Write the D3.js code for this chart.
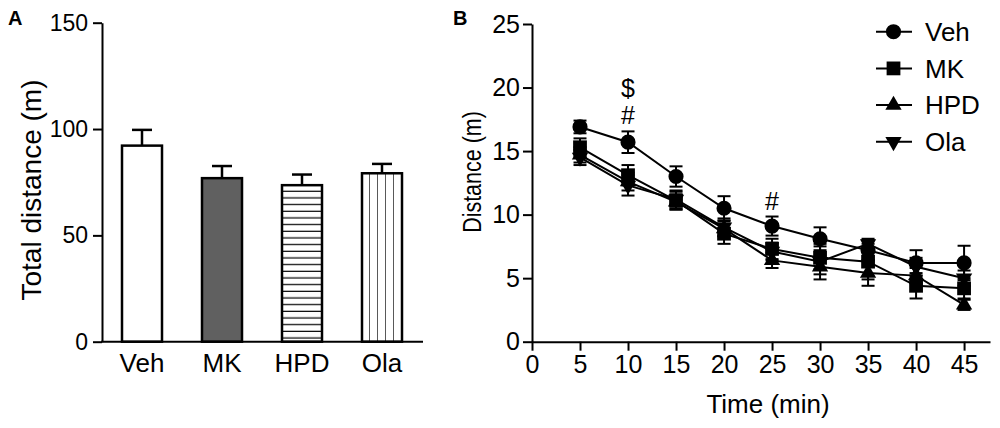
<!DOCTYPE html>
<html>
<head>
<meta charset="utf-8">
<script src="https://cdn.jsdelivr.net/npm/d3@7"></script>
<style>
  body { margin: 0; background: #fff; }
  svg { display: block; font-family: Arial, "Liberation Sans", sans-serif; }
</style>
</head>
<body>
<svg id="chart"></svg>
<script>
// panel A: total distance
var groups = ["Veh", "MK", "HPD", "Ola"];
var totalMean = [92.2, 76.9, 73.6, 79.2];
var totalSem = [7.4, 5.7, 5.0, 4.4];
var totalTicks = [0, 50, 100, 150];

// panel B: distance per 5-min bin
var times = [5, 10, 15, 20, 25, 30, 35, 40, 45];
var timeTicks = [0, 5, 10, 15, 20, 25, 30, 35, 40, 45];
var distTicks = [0, 5, 10, 15, 20, 25];
var vehMean = [16.9, 15.7, 13.0, 10.5, 9.1, 8.1, 7.2, 6.2, 6.2];
var vehSem = [0.5, 0.85, 0.8, 0.95, 0.75, 0.9, 0.8, 1.0, 1.35];
var mkMean = [15.3, 13.1, 11.1, 8.5, 7.3, 6.6, 6.3, 4.4, 4.2];
var mkSem = [0.7, 0.8, 0.7, 0.8, 0.8, 0.9, 1.4, 1.0, 0.8];
var hpdMean = [14.7, 12.6, 11.0, 8.9, 6.4, 5.9, 5.4, 5.2, 2.9];
var hpdSem = [0.6, 0.7, 0.6, 0.6, 0.6, 0.6, 1.0, 0.6, 0.4];
var olaMean = [14.5, 12.3, 11.2, 9.0, 7.1, 6.3, 7.7, 5.9, 5.0];
var olaSem = [0.6, 0.8, 0.7, 0.7, 0.7, 1.4, 0.4, 0.7, 0.6];
var marks = [
	{ x: 10, above: vehMean[1] + vehSem[1], text: ["$", "#"] },
	{ x: 25, above: vehMean[4] + vehSem[4], text: ["#"] }
];

var W = 1000, H = 428;
var svg = d3.select("#chart").attr("width", W).attr("height", H);

function panelLabel(x, y, t) {
	svg.append("text")
		.attr("x", x).attr("y", y)
		.attr("font-size", "20px")
		.attr("font-weight", "bold")
		.text(t);
}

function styleAxis(g, size) {
	g.selectAll("path, line").attr("stroke", "#000").attr("stroke-width", 2);
	g.selectAll("text").attr("font-size", size).attr("fill", "#000")
		.attr("font-family", "Arial, 'Liberation Sans', sans-serif");
}

//////////////////////////////////////
// Panel A
panelLabel(8, 25, "A");

var xa = d3.scaleBand().domain(groups).range([102, 422]).paddingInner(0.5).paddingOuter(0.25);
var ya = d3.scaleLinear().domain([0, 150]).range([341.7, 22.7]);

var defs = svg.append("defs");
// horizontal stripes for HPD
var hp = defs.append("pattern").attr("id", "hstripe")
	.attr("patternUnits", "userSpaceOnUse")
	.attr("x", 0).attr("y", ya(totalMean[2]))
	.attr("width", 10).attr("height", 6.67);
hp.append("rect").attr("width", 10).attr("height", 6.67).attr("fill", "#fff");
hp.append("line").attr("x1", 0).attr("x2", 10).attr("y1", 6.67).attr("y2", 6.67)
	.attr("stroke", "#000").attr("stroke-width", 2.4);
// vertical stripes for Ola
var vw = xa.bandwidth() / 5;
var vp = defs.append("pattern").attr("id", "vstripe")
	.attr("patternUnits", "userSpaceOnUse")
	.attr("x", xa("Ola")).attr("y", 0)
	.attr("width", vw).attr("height", 10);
vp.append("rect").attr("width", vw).attr("height", 10).attr("fill", "#fff");
vp.append("line").attr("x1", vw).attr("x2", vw).attr("y1", 0).attr("y2", 10)
	.attr("stroke", "#000").attr("stroke-width", 1.3);

var fills = ["#fff", "#606060", "url(#hstripe)", "url(#vstripe)"];

var ga = svg.append("g");
// error bars (upper only)
groups.forEach(function(g, i) {
	var cx = xa(g) + xa.bandwidth() / 2;
	ga.append("line")
		.attr("x1", cx).attr("x2", cx)
		.attr("y1", ya(totalMean[i])).attr("y2", ya(totalMean[i] + totalSem[i]))
		.attr("stroke", "#000").attr("stroke-width", 2.5);
	ga.append("line")
		.attr("x1", cx - xa.bandwidth() / 4).attr("x2", cx + xa.bandwidth() / 4)
		.attr("y1", ya(totalMean[i] + totalSem[i])).attr("y2", ya(totalMean[i] + totalSem[i]))
		.attr("stroke", "#000").attr("stroke-width", 2.5);
});

ga.selectAll("rect.bar")
	.data(groups)
	.enter().append("rect")
	.attr("class", "bar")
	.attr("x", function(d) { return xa(d); })
	.attr("width", xa.bandwidth())
	.attr("y", function(d, i) { return ya(totalMean[i]); })
	.attr("height", function(d, i) { return ya(0) - ya(totalMean[i]); })
	.attr("fill", function(d, i) { return fills[i]; })
	.attr("stroke", "#000")
	.attr("stroke-width", 2.5);

var ayA = svg.append("g").attr("transform", "translate(102,0)")
	.call(d3.axisLeft(ya).tickValues(totalTicks).tickSize(9).tickPadding(5).tickSizeOuter(0));
styleAxis(ayA, "23px");

var axA = svg.append("g").attr("transform", "translate(0," + ya(0) + ")")
	.call(d3.axisBottom(xa).tickSize(0).tickPadding(8).tickSizeOuter(0));
axA.select(".domain").attr("d", "M101,0H423");
styleAxis(axA, "26px");
axA.selectAll("text").attr("dy", "0.85em");

svg.append("text")
	.attr("transform", "translate(41,190) rotate(-90)")
	.attr("text-anchor", "middle")
	.attr("font-size", "28px")
	.text("Total distance (m)");

//////////////////////////////////////
// Panel B
panelLabel(453, 25, "B");

var xb = d3.scaleLinear().domain([0, 47.7]).range([532, 990]);
var yb = d3.scaleLinear().domain([0, 25]).range([341.7, 24]);

var ayB = svg.append("g").attr("transform", "translate(532,0)")
	.call(d3.axisLeft(yb).tickValues(distTicks).tickSize(9).tickPadding(3).tickSizeOuter(0));
styleAxis(ayB, "25px");

var axB = svg.append("g").attr("transform", "translate(0," + yb(0) + ")")
	.call(d3.axisBottom(xb).tickValues(timeTicks).tickSize(9).tickPadding(5).tickSizeOuter(0));
styleAxis(axB, "25px");

// the original title is squeezed along its length
svg.append("text")
	.attr("transform", "translate(481,172) rotate(-90) scale(0.86,1)")
	.attr("text-anchor", "middle")
	.attr("font-size", "25px")
	.text("Distance (m)");

svg.append("text")
	.attr("x", 768).attr("y", 413)
	.attr("text-anchor", "middle")
	.attr("font-size", "26px")
	.text("Time (min)");

var series = [
	{ name: "Veh", mean: vehMean, sem: vehSem, sym: d3.symbolCircle, size: 180, rot: 0 },
	{ name: "MK", mean: mkMean, sem: mkSem, sym: d3.symbolSquare, size: 190, rot: 0 },
	{ name: "HPD", mean: hpdMean, sem: hpdSem, sym: d3.symbolTriangle, size: 115, rot: 0 },
	{ name: "Ola", mean: olaMean, sem: olaSem, sym: d3.symbolTriangle, size: 115, rot: 180 }
];

var line = d3.line()
	.x(function(d) { return xb(d[0]); })
	.y(function(d) { return yb(d[1]); });

var gb = svg.append("g");
series.forEach(function(s) {
	var pts = times.map(function(t, i) { return [t, s.mean[i], s.sem[i]]; });
	gb.append("path")
		.datum(pts)
		.attr("d", line)
		.attr("fill", "none")
		.attr("stroke", "#000")
		.attr("stroke-width", 2);
	var eb = gb.append("g");
	pts.forEach(function(p) {
		var cx = xb(p[0]);
		eb.append("line").attr("x1", cx).attr("x2", cx)
			.attr("y1", yb(p[1] - p[2])).attr("y2", yb(p[1] + p[2]))
			.attr("stroke", "#000").attr("stroke-width", 2);
		[p[1] - p[2], p[1] + p[2]].forEach(function(v) {
			eb.append("line").attr("x1", cx - 6.5).attr("x2", cx + 6.5)
				.attr("y1", yb(v)).attr("y2", yb(v))
				.attr("stroke", "#000").attr("stroke-width", 2);
		});
	});
});
series.forEach(function(s) {
	gb.selectAll("path.m-" + s.name)
		.data(times)
		.enter().append("path")
		.attr("class", "m-" + s.name)
		.attr("d", d3.symbol().type(s.sym).size(s.size))
		.attr("transform", function(t, i) {
			return "translate(" + xb(t) + "," + yb(s.mean[i]) + ") rotate(" + s.rot + ")";
		})
		.attr("fill", "#000");
});

// significance marks
marks.forEach(function(m) {
	m.text.forEach(function(t, j) {
		var n = m.text.length - j;
		svg.append("text")
			.attr("x", xb(m.x))
			.attr("y", yb(m.above) - 7 - (n - 1) * 27)
			.attr("text-anchor", "middle")
			.attr("font-size", "25px")
			.text(t);
	});
});

// legend
var lg = svg.append("g");
series.forEach(function(s, i) {
	var ly = 31.7 + i * 36.7;
	lg.append("line").attr("x1", 876).attr("x2", 912).attr("y1", ly).attr("y2", ly)
		.attr("stroke", "#000").attr("stroke-width", 2);
	lg.append("path")
		.attr("d", d3.symbol().type(s.sym).size(s.size))
		.attr("transform", "translate(893.5," + ly + ") rotate(" + s.rot + ")")
		.attr("fill", "#000");
	lg.append("text")
		.attr("x", 925).attr("y", ly)
		.attr("dy", "0.36em")
		.attr("font-size", "26px")
		.text(s.name);
});
</script>
</body>
</html>
